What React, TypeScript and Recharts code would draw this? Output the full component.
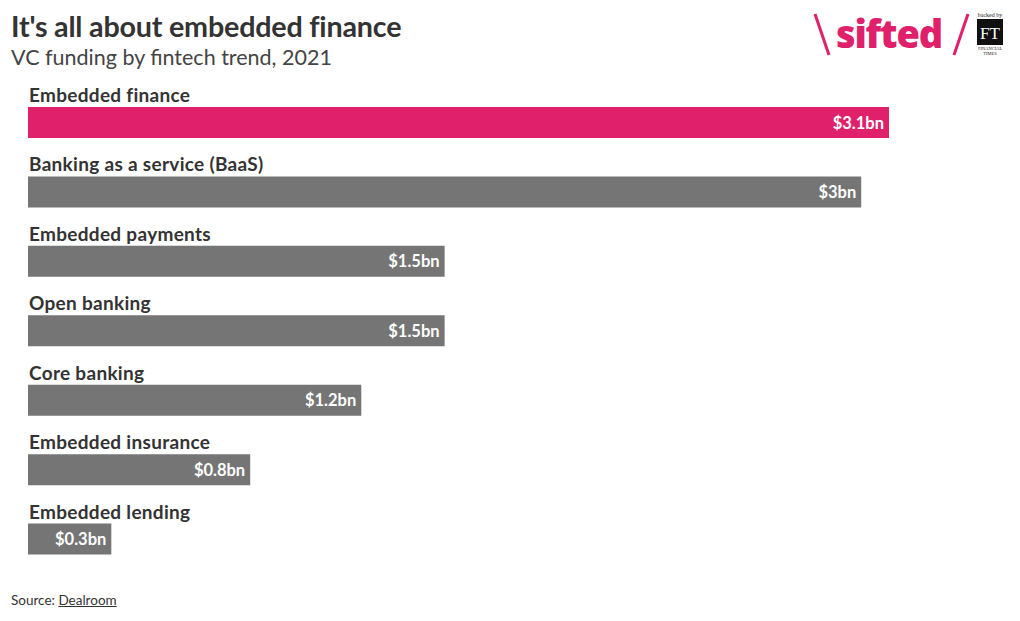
import { Bar, BarChart, LabelList, XAxis, YAxis } from "recharts";

const trends = [
  "Embedded finance",
  "Banking as a service (BaaS)",
  "Embedded payments",
  "Open banking",
  "Core banking",
  "Embedded insurance",
  "Embedded lending",
];
const funding = [3.1, 3.0, 1.5, 1.5, 1.2, 0.8, 0.3];
const valueLabels = ["$3.1bn", "$3bn", "$1.5bn", "$1.5bn", "$1.2bn", "$0.8bn", "$0.3bn"];

const data = trends.map((name, i) => ({
  name,
  value: funding[i],
  label: valueLabels[i],
  fill: i === 0 ? "#e0206b" : "#757575",
}));

const FONT = "'Source Sans Pro', Lato, 'Open Sans', sans-serif";

function NameLabel(props: any) {
  const { x, y, value } = props;
  return (
    <text x={x + 1} y={y - 5} fill="#333" fontSize={19} fontWeight={700} fontFamily={FONT} letterSpacing={0.3}>
      {value}
    </text>
  );
}

function ValueLabel(props: any) {
  const { x, y, width, height, value } = props;
  return (
    <text
      x={x + width - 5}
      y={y + height / 2 + 6}
      textAnchor="end"
      fill="#fff"
      fontSize={16.5}
      fontWeight={700}
      fontFamily={FONT}
    >
      {value}
    </text>
  );
}

function Logo() {
  return (
    <svg width={1020} height={70} style={{ position: "absolute", left: 0, top: 0 }}>
      <line x1={815} y1={14} x2={829} y2={55} stroke="#e0206b" strokeWidth={3} />
      <text x={836} y={48} fill="#e0206b" fontSize={38} fontWeight={800} fontFamily="'Open Sans', sans-serif" letterSpacing={-1.2}>
        sifted
      </text>
      <line x1={968} y1={14} x2={954} y2={55} stroke="#e0206b" strokeWidth={3} />
      <text x={990} y={17} textAnchor="middle" fontSize={6} fill="#222" fontFamily="serif">
        backed by
      </text>
      <rect x={977} y={19} width={26} height={26} fill="#111" />
      <text x={990} y={39} textAnchor="middle" fontSize={17} fill="#fff" fontFamily="'Liberation Serif', serif">
        FT
      </text>
      <text x={990} y={50} textAnchor="middle" fontSize={4.5} fill="#222" fontFamily="serif">
        FINANCIAL
      </text>
      <text x={990} y={55} textAnchor="middle" fontSize={4.5} fill="#222" fontFamily="serif">
        TIMES
      </text>
    </svg>
  );
}

export default function App() {
  return (
    <div
      style={{
        position: "absolute",
        left: 0,
        top: 0,
        width: 1020,
        height: 621,
        background: "#fff",
        fontFamily: FONT,
        overflow: "hidden",
      }}
    >
      <div style={{ position: "absolute", left: 11, top: 9, fontSize: 28.7, fontWeight: 700, color: "#333", letterSpacing: -0.2 }}>
        It's all about embedded finance
      </div>
      <div style={{ position: "absolute", left: 11, top: 44, fontSize: 21.5, color: "#444" }}>
        VC funding by fintech trend, 2021
      </div>
      <Logo />
      <div style={{ position: "absolute", left: 0, top: 0 }}>
        <BarChart
          width={1020}
          height={621}
          data={data}
          layout="vertical"
          margin={{ top: 88, right: 131, bottom: 47, left: 28 }}
          barSize={31}
        >
          <XAxis type="number" hide domain={[0, 3.1]} />
          <YAxis type="category" dataKey="name" hide />
          <Bar dataKey="value" isAnimationActive={false}>
            <LabelList dataKey="name" content={NameLabel} />
            <LabelList dataKey="label" content={ValueLabel} />
          </Bar>
        </BarChart>
      </div>
      <div style={{ position: "absolute", left: 11, top: 592, fontSize: 13.5, color: "#333" }}>
        Source: <span style={{ textDecoration: "underline" }}>Dealroom</span>
      </div>
    </div>
  );
}
